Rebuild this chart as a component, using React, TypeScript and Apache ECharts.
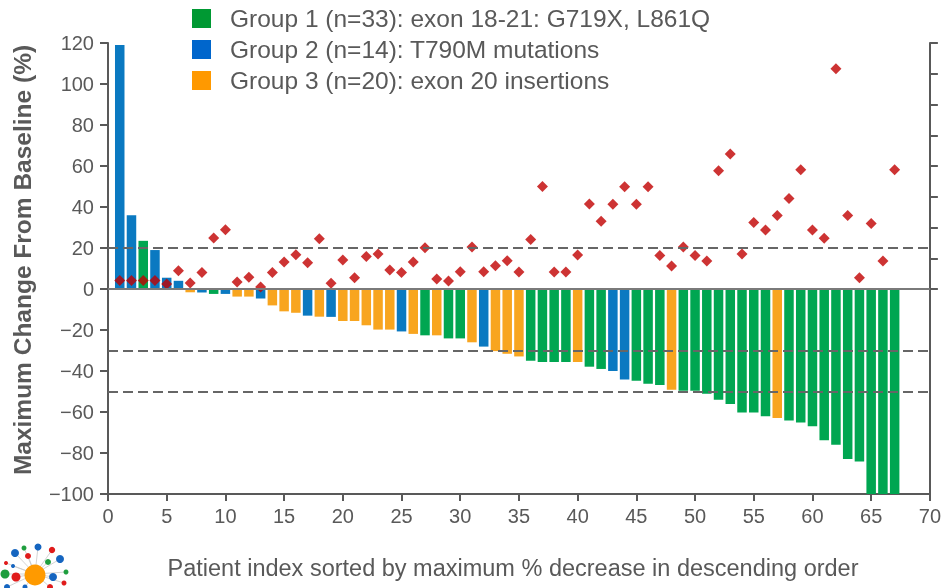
import React, { useEffect, useRef } from "react";
import * as echarts from "echarts";

const groupNames = [
  "Group 1 (n=33): exon 18-21: G719X, L861Q",
  "Group 2 (n=14): T790M mutations",
  "Group 3 (n=20): exon 20 insertions",
];
const barColors = ["#00a651", "#0a79c1", "#f8a51f"];
const legendColors = ["#009933", "#0066cc", "#ff9900"];

// group of each patient (1, 2, 3), patients 1..67
const patientGroups = [
  2, 2, 1, 2, 2, 2, 3, 2, 1, 2,
  3, 3, 2, 3, 3, 3, 2, 3, 2, 3,
  3, 3, 3, 3, 2, 3, 1, 3, 1, 1,
  3, 2, 3, 3, 3, 1, 1, 1, 1, 3,
  1, 1, 2, 2, 1, 1, 1, 3, 1, 1,
  1, 1, 1, 1, 1, 1, 3, 1, 1, 1,
  1, 1, 1, 1, 1, 1, 1,
];

// maximum change from baseline (%) per patient
const maxChange = [
  119, 36, 23.5, 19, 5.5, 4, -1.6, -1.7, -2.4, -2.4,
  -3.7, -3.7, -4.6, -8, -10.9, -11.6, -13, -13.5, -13.6, -15.6,
  -15.6, -17.7, -19.8, -19.8, -20.7, -21.9, -22.6, -22.6, -24.1, -24.1,
  -26, -28.1, -30.3, -31.6, -32.9, -35, -35.6, -35.6, -35.6, -35.6,
  -37.9, -39, -40, -44.2, -44.7, -46.2, -46.8, -49.1, -49.6, -49.6,
  -51.1, -54, -56.1, -60.2, -60.2, -62.1, -62.9, -64.2, -65.1, -67,
  -73.8, -76, -82.9, -84.2, -100, -100, -100,
];

// diamond markers per patient
const diamondValues = [
  4.2, 4.2, 4.2, 4.2, 2.4, 8.9, 2.9, 8.1, 24.9, 28.9,
  3.4, 5.7, 1.0, 8.1, 13.2, 16.7, 12.8, 24.5, 2.8, 14.1,
  5.5, 15.9, 17.1, 9.3, 8.1, 13.2, 20.1, 4.9, 3.9, 8.4,
  20.5, 8.4, 11.4, 13.8, 8.3, 24.2, 50, 8.3, 8.3, 16.6,
  41.5, 33.1, 41.4, 49.9, 41.3, 49.9, 16.4, 11.2, 20.5, 16.4,
  13.7, 57.7, 65.9, 17.1, 32.5, 28.8, 35.9, 44.2, 58.2, 28.8,
  24.7, 107.5, 35.9, 5.5, 32, 13.7, 58.2,
];

const referenceLines = [20, -30, -50];
const rightTicks = [0, 15, 30, 45, 60, 75, 90, 105, 120];

const xAxisTitle = "Patient index sorted by maximum % decrease in descending order";
const yAxisTitle = "Maximum Change From Baseline (%)";

const FONT = "'Liberation Sans', Arial, sans-serif";
const TEXT = "#595959";
const AXIS = "#595959";

// logo circles: [x, y, r, color]
const logoDots: [number, number, number, string][] = [
  [15, 553, 4, "#1565c0"],
  [24, 548, 2.5, "#1e9e3e"],
  [38, 547, 3.5, "#1565c0"],
  [52, 550, 3.2, "#e01b1b"],
  [28, 556, 3, "#e01b1b"],
  [48, 562, 3, "#1e9e3e"],
  [60, 559, 4, "#1565c0"],
  [6, 563, 2, "#e01b1b"],
  [13, 566, 2, "#1565c0"],
  [5, 574, 4.5, "#1e9e3e"],
  [16, 577, 4.5, "#e01b1b"],
  [66, 572, 2.5, "#1e9e3e"],
  [53, 577, 4, "#1565c0"],
  [64, 583, 2.5, "#e01b1b"],
  [7, 587, 3, "#1565c0"],
  [25, 587, 2.5, "#1565c0"],
  [50, 587, 3, "#e01b1b"],
];

function fmt(v: number) {
  return v < 0 ? "\u2212" + Math.abs(v) : String(v);
}

export default function App() {
  const ref = useRef<HTMLDivElement>(null);
  useEffect(() => {
    if (!ref.current) return;
    const chart = echarts.init(ref.current, undefined, { renderer: "svg" });

    const barSeries = [1, 2, 3].map((g, gi) => ({
      name: groupNames[gi],
      type: "bar",
      barWidth: 9.5,
      barGap: "-100%",
      z: 2,
      itemStyle: { color: barColors[gi] },
      data: maxChange
        .map((v, i) => (patientGroups[i] === g ? [i + 1, v] : null))
        .filter((d) => d !== null),
    }));

    const logoGraphics: any[] = [];
    logoDots.forEach(([x, y]) => {
      logoGraphics.push({
        type: "line",
        shape: { x1: 35, y1: 574, x2: x, y2: y },
        style: { stroke: "#c8c8c8", lineWidth: 0.8 },
        z: 10,
      });
    });
    logoDots.forEach(([x, y, r, c]) => {
      logoGraphics.push({
        type: "circle",
        shape: { cx: x, cy: y, r },
        style: { fill: c },
        z: 11,
      });
    });
    logoGraphics.push({
      type: "circle",
      shape: { cx: 35, cy: 575, r: 10.5 },
      style: { fill: "#ff9a00" },
      z: 12,
    });

    const option: any = {
      animation: false,
      textStyle: { fontFamily: FONT },
      grid: { left: 108, right: 13, top: 43, bottom: 94, containLabel: false },
      legend: {
        orient: "vertical",
        left: 187,
        top: 1,
        itemWidth: 19,
        itemHeight: 19,
        itemGap: 6,
        icon: "rect",
        selectedMode: false,
        textStyle: {
          fontFamily: FONT,
          fontSize: 24.5,
          color: TEXT,
          padding: [0, 0, 0, 14],
        },
        data: groupNames.map((n, i) => ({
          name: n,
          itemStyle: { color: legendColors[i] },
        })),
      },
      xAxis: {
        type: "value",
        min: 0,
        max: 70,
        interval: 5,
        axisLine: { onZero: false, lineStyle: { color: AXIS, width: 2 } },
        axisTick: { show: true, length: 7, lineStyle: { color: AXIS, width: 2 } },
        axisLabel: { fontSize: 20, color: TEXT, margin: 12, fontFamily: FONT },
        splitLine: { show: false },
      },
      yAxis: [
        {
          type: "value",
          min: -100,
          max: 120,
          interval: 20,
          axisLine: { show: true, onZero: false, lineStyle: { color: AXIS, width: 2 } },
          axisTick: { show: true, length: 8, lineStyle: { color: AXIS, width: 2 } },
          axisLabel: {
            fontSize: 20,
            color: TEXT,
            margin: 14,
            fontFamily: FONT,
            formatter: (v: number) => fmt(v),
          },
          splitLine: { show: false },
        },
        {
          type: "value",
          position: "right",
          min: -100,
          max: 120,
          axisLine: { show: true, onZero: false, lineStyle: { color: AXIS, width: 2 } },
          axisTick: {
            show: true,
            length: 8,
            customValues: rightTicks,
            lineStyle: { color: AXIS, width: 2 },
          },
          axisLabel: { show: false },
          splitLine: { show: false },
        },
      ],
      series: [
        {
          name: "refLines",
          type: "line",
          data: [],
          z: 1,
          silent: true,
          markLine: {
            silent: true,
            symbol: "none",
            label: { show: false },
            lineStyle: { color: "#666666", width: 2, type: [10, 5] },
            data: referenceLines.map((v) => ({ yAxis: v })),
          },
        },
        ...barSeries,
        {
          name: "zeroLine",
          type: "line",
          data: [],
          z: 3,
          silent: true,
          markLine: {
            silent: true,
            symbol: "none",
            label: { show: false },
            lineStyle: { color: "#7a7a7a", width: 2, type: "solid" },
            data: [{ yAxis: 0 }],
          },
        },
        {
          name: "markers",
          type: "scatter",
          symbol: "diamond",
          symbolSize: 11,
          z: 4,
          itemStyle: { color: "#c00000" },
          data: diamondValues.map((v, i) => [i + 1, v]),
        },
      ],
      graphic: [
        {
          type: "text",
          x: 513,
          y: 568,
          style: {
            text: xAxisTitle,
            fontSize: 23.5,
            fill: TEXT,
            fontFamily: FONT,
            align: "center",
            verticalAlign: "middle",
          },
        },
        {
          type: "text",
          x: 22,
          y: 260,
          rotation: Math.PI / 2,
          style: {
            text: yAxisTitle,
            fontSize: 24.5,
            fontWeight: "bold",
            fill: TEXT,
            fontFamily: FONT,
            align: "center",
            verticalAlign: "middle",
          },
        },
        ...logoGraphics,
      ],
    };
    chart.setOption(option);
    return () => chart.dispose();
  }, []);
  return (
    <div
      ref={ref}
      style={{ position: "fixed", left: 0, top: 0, width: 944, height: 588 }}
    />
  );
}
